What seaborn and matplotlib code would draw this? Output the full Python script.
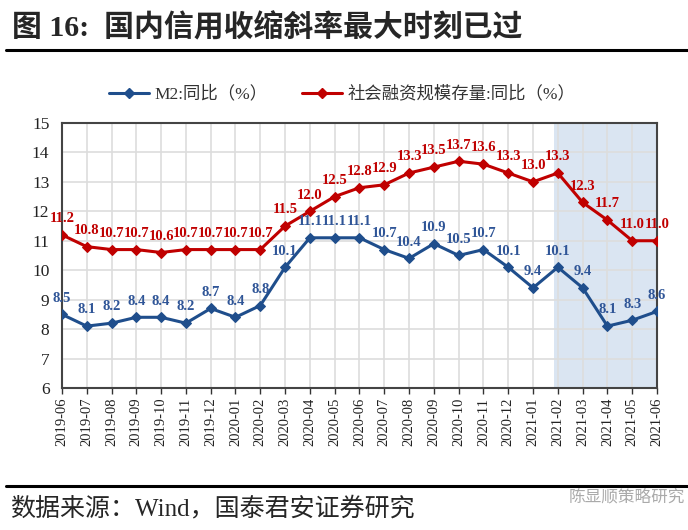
import numpy as np
import pandas as pd
import seaborn as sns
import matplotlib.pyplot as plt
from matplotlib.lines import Line2D

months = ['2019-06', '2019-07', '2019-08', '2019-09', '2019-10', '2019-11',
          '2019-12', '2020-01', '2020-02', '2020-03', '2020-04', '2020-05',
          '2020-06', '2020-07', '2020-08', '2020-09', '2020-10', '2020-11',
          '2020-12', '2021-01', '2021-02', '2021-03', '2021-04', '2021-05',
          '2021-06']
m2 = [8.5, 8.1, 8.2, 8.4, 8.4, 8.2, 8.7, 8.4, 8.8, 10.1, 11.1, 11.1, 11.1,
      10.7, 10.4, 10.9, 10.5, 10.7, 10.1, 9.4, 10.1, 9.4, 8.1, 8.3, 8.6]
tsf = [11.2, 10.8, 10.7, 10.7, 10.6, 10.7, 10.7, 10.7, 10.7, 11.5, 12.0,
       12.5, 12.8, 12.9, 13.3, 13.5, 13.7, 13.6, 13.3, 13.0, 13.3, 12.3,
       11.7, 11.0, 11.0]
m2_name = 'M2:同比（%）'
tsf_name = '社会融资规模存量:同比（%）'
shade_from = '2021-02'

BLUE = '#1F4E8C'
BLUE_TXT = '#2F5597'
RED = '#C00000'
MIXED = ['Liberation Serif', 'Noto Sans CJK SC']

sns.set_theme(style='white')
plt.rcParams['font.family'] = MIXED
plt.rcParams['axes.unicode_minus'] = False

df = pd.DataFrame({'x': np.arange(len(months)), 'm2': m2, 'tsf': tsf})

fig = plt.figure(figsize=(6.88, 5.30), dpi=100)
ax = fig.add_axes([0.090, 0.268, 0.865, 0.500])

xs = df['x'].to_numpy()
i0 = months.index(shade_from)
ax.axvspan(i0 - 0.15, xs[-1], color='#DAE5F2', zorder=0, lw=0)

sns.lineplot(data=df, x='x', y='m2', ax=ax, color=BLUE, lw=2.2,
             marker='D', markersize=5.5, markeredgecolor=BLUE, zorder=3)
sns.lineplot(data=df, x='x', y='tsf', ax=ax, color=RED, lw=2.2,
             marker='D', markersize=5.5, markeredgecolor=RED, zorder=3)

for i, v in enumerate(m2):
    ax.annotate(f'{v:.1f}', (xs[i], v), xytext=(0, 7),
                textcoords='offset points', ha='center', va='bottom',
                color=BLUE_TXT, fontsize=10.5, fontweight='bold',
                family='Liberation Serif')
for i, v in enumerate(tsf):
    ax.annotate(f'{v:.1f}', (xs[i], v), xytext=(0, 7),
                textcoords='offset points', ha='center', va='bottom',
                color=RED, fontsize=10.5, fontweight='bold',
                family='Liberation Serif')

ax.set_xlim(xs[0], xs[-1])
ax.set_ylim(6, 15)
ax.set_yticks(range(6, 16))
ax.set_xticks(xs)
ax.set_xticklabels(months, rotation=90, fontsize=10.5, color='#222222')
ax.tick_params(axis='y', labelsize=12.5, colors='#222222', length=0, pad=9)
ax.tick_params(axis='x', length=4, width=1, color='#333333', direction='out',
               bottom=True, pad=3)
ax.set_xlabel('')
ax.set_ylabel('')
ax.grid(True, color='#DDDDDD', lw=1.2)
ax.set_axisbelow(True)
for s in ax.spines.values():
    s.set_color('#444444')
    s.set_linewidth(1.5)

handles = [Line2D([], [], color=BLUE, lw=2.2, marker='D', markersize=5),
           Line2D([], [], color=RED, lw=2.2, marker='D', markersize=5)]
leg = fig.legend(handles, [m2_name, tsf_name], loc='center',
                 bbox_to_anchor=(0.497, 0.822), ncol=2, frameon=False,
                 handlelength=2.3, handletextpad=0.3, columnspacing=2.0,
                 prop={'family': MIXED, 'size': 12.5})
for t in leg.get_texts():
    t.set_color('#333333')

fig.text(0.017, 0.947, '图 16:  国内信用收缩斜率最大时刻已过', fontsize=21.5,
         fontweight='bold', va='center', ha='left', family=MIXED)
fig.add_artist(Line2D([0.008, 1.0], [0.905, 0.905], color='black', lw=2.2))
fig.add_artist(Line2D([0.008, 1.0], [0.083, 0.083], color='black', lw=2.2))
fig.text(0.015, 0.040, '数据来源：Wind，国泰君安证券研究', fontsize=18,
         va='center', ha='left', family=MIXED)
fig.text(0.995, 0.063, '陈显顺策略研究', fontsize=12, color='#AAAAAA',
         va='center', ha='right', family=['Noto Sans CJK SC'])

fig.savefig('out.png', dpi=100)
